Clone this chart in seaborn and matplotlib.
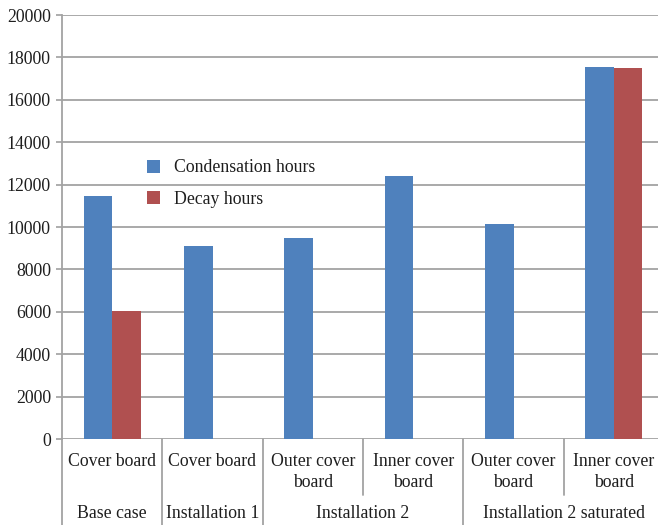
import pandas as pd
import matplotlib
matplotlib.use("Agg")
import matplotlib.pyplot as plt
import seaborn as sns
from matplotlib.patches import Patch

# data
groups = ["Base case", "Installation 1", "Installation 2", "Installation 2 saturated"]
group_sizes = [1, 1, 2, 2]
sub_labels = ["Cover board", "Cover board", "Outer cover\nboard", "Inner cover\nboard",
              "Outer cover\nboard", "Inner cover\nboard"]
condensation_hours = [11470, 9100, 9480, 12400, 10140, 17550]
decay_hours = [6040, 0, 0, 0, 0, 17480]
series_names = ["Condensation hours", "Decay hours"]
colors = ["#4F81BD", "#B05050"]

rows = []
for i in range(len(sub_labels)):
    rows.append({"pos": i, "series": series_names[0], "hours": condensation_hours[i]})
    rows.append({"pos": i, "series": series_names[1], "hours": decay_hours[i]})
df = pd.DataFrame(rows)

sns.set_theme(style="white")
plt.rcParams["font.family"] = ["Liberation Serif", "DejaVu Serif"]
fs = 12.8
txt_c = "#1E1E1E"

fig = plt.figure(figsize=(6.58, 5.25), dpi=100)
ax = fig.add_axes([62 / 658, 86 / 525, 602 / 658, 424 / 525])

sns.barplot(data=df, x="pos", y="hours", hue="series", palette=colors,
            saturation=1, width=0.57, ax=ax, legend=False, linewidth=0)

grid_c = "#A3A3A3"
ax.set_xlim(-0.5, 5.5)
ax.set_ylim(0, 20000)
ax.set_yticks(range(0, 20001, 2000))
ax.yaxis.grid(True, color=grid_c, linewidth=1.3)
ax.set_axisbelow(True)
ax.set_xticks([])
ax.set_xlabel("")
ax.set_ylabel("")
for s in ["top", "right", "bottom"]:
    ax.spines[s].set_visible(False)
ax.spines["left"].set_color(grid_c)
ax.spines["left"].set_linewidth(1.3)
ax.tick_params(axis="y", left=True, length=4, color=grid_c, labelsize=fs,
               labelcolor=txt_c, pad=4)

# hierarchical category labels
xt = ax.get_xaxis_transform()
for i, lab in enumerate(sub_labels):
    ax.text(i, -0.033, lab, ha="center", va="top", fontsize=fs, color=txt_c,
            transform=xt, linespacing=1.3)

start = 0
for g, n in zip(groups, group_sizes):
    center = start + (n - 1) / 2
    ax.text(center, -0.196, g, ha="center", va="bottom", fontsize=fs, color=txt_c,
            transform=xt)
    # group boundary line (full height)
    ax.plot([start - 0.5, start - 0.5], [0, -0.25], color=grid_c, lw=1.3,
            transform=xt, clip_on=False)
    # inner separators
    for k in range(1, n):
        ax.plot([start + k - 0.5] * 2, [0, -0.132], color=grid_c, lw=1.3,
                transform=xt, clip_on=False)
    start += n

handles = [Patch(facecolor=c, edgecolor="none") for c in colors]
ax.legend(handles, series_names, loc="upper left", bbox_to_anchor=(0.115, 0.697),
          frameon=False, fontsize=fs, handlelength=0.72, handleheight=0.72,
          handletextpad=0.8, labelspacing=0.8, labelcolor=txt_c)

fig.savefig("out.png", dpi=100)
